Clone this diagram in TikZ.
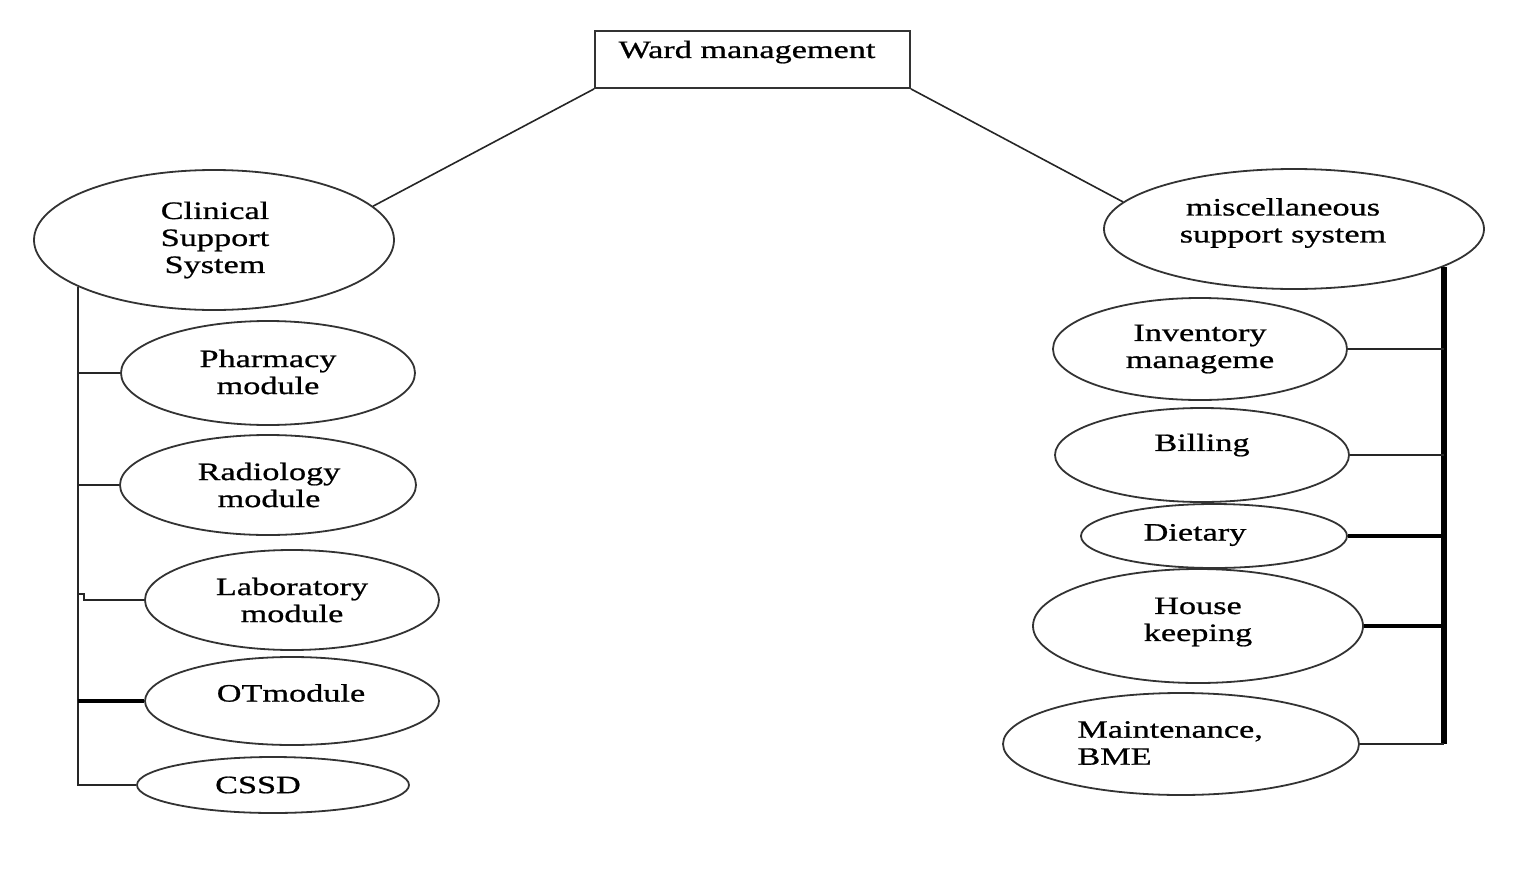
\documentclass[tikz,border=0pt]{standalone}
\usepackage{fontspec}
\setmainfont{Liberation Serif}[FakeStretch=1.37,FakeBold=0.8]
\usetikzlibrary{shapes.geometric}
\tikzset{
  oval/.style={ellipse,draw=black!80,line width=0.9pt,inner sep=0pt},
  boxed/.style={rectangle,draw=black!80,line width=0.9pt,inner sep=0pt},
  lbl/.style={align=center,inner sep=0pt,font=\fontsize{12.5}{13.5}\selectfont},
  conn/.style={draw=black!85,line width=0.8pt},
  conntk/.style={draw=black,line width=2pt},
  trunkr/.style={draw=black,line width=3pt},
}
\begin{document}
\begin{tikzpicture}[x=0.5pt,y=-0.5pt]
\useasboundingbox (0,0) rectangle (1527,868);
% top box
\node[boxed,minimum width=157.5pt,minimum height=28.5pt] (ward) at (752.5,59.5) {};
\node[lbl] (tward) at (747,52) {Ward management};
% left ellipses
\node[oval,minimum width=180pt,minimum height=70pt] (clin) at (214,240) {};
\node[oval,minimum width=147pt,minimum height=52pt] (phar) at (268,373) {};
\node[oval,minimum width=148pt,minimum height=50pt] (radi) at (268,485) {};
\node[oval,minimum width=147pt,minimum height=50pt] (lab) at (292,600) {};
\node[oval,minimum width=147pt,minimum height=44pt] (ot) at (292,701) {};
\node[oval,minimum width=136pt,minimum height=28pt] (cssd) at (273,785) {};
% right ellipses
\node[oval,minimum width=190pt,minimum height=60pt] (misc) at (1294,229) {};
\node[oval,minimum width=147pt,minimum height=51pt] (inv) at (1200,349) {};
\node[oval,minimum width=147pt,minimum height=47pt] (bill) at (1202,455) {};
\node[oval,minimum width=133pt,minimum height=32pt] (diet) at (1214,536) {};
\node[oval,minimum width=165pt,minimum height=57pt] (house) at (1198,626) {};
\node[oval,minimum width=178pt,minimum height=51pt] (maint) at (1181,744) {};
% labels
\node[lbl] (tclin) at (215,240) {Clinical\\Support\\System};
\node[lbl] (tphar) at (268,372) {Pharmacy\\module};
\node[lbl] (tradi) at (269,485) {Radiology\\module};
\node[lbl] (tlab) at (292,600) {Laboratory\\module};
\node[lbl] (tot) at (291,693) {OTmodule};
\node[lbl] (tcssd) at (258,785) {CSSD};
\node[lbl] (tmisc) at (1283,223) {miscellaneous\\support system};
\node[lbl] (tinv) at (1200,349) {Inventory\\manageme};
\node[lbl] (tbill) at (1202,445) {Billing};
\node[lbl] (tdiet) at (1195,535) {Dietary};
\node[lbl] (thouse) at (1198,622) {House\\keeping};
\node[lbl,align=left,anchor=west] (tmaint) at (1077,743) {Maintenance,\\BME};
% top connectors
\draw[conn] (ward.south west) -- (clin.12.5);
\draw[conn] (ward.south east) -- (misc.171.4);
% left trunk and branches
\coordinate (lt) at (clin.199.6);
\coordinate (lstep) at (84,594);
\draw[conn] (lt) |- (cssd.west);
\draw[conn] (phar.west) -- (phar.west -| lt);
\draw[conn] (radi.west) -- (radi.west -| lt);
\draw[conn] (lab.west) -| (lstep) -- (lstep -| lt);
\draw[conntk] (ot.west) -- (ot.west -| lt);
% right trunk and branches
\coordinate (rt) at (misc.-14.6);
\draw[trunkr] (rt) -- (rt |- maint.east);
\draw[conn] (inv.east) -- (inv.east -| rt);
\draw[conn] (bill.east) -- (bill.east -| rt);
\draw[conntk] (diet.east) -- (diet.east -| rt);
\draw[conntk] (house.east) -- (house.east -| rt);
\draw[conn,line width=1.2pt] (maint.east) -- (maint.east -| rt);
\end{tikzpicture}
\end{document}
